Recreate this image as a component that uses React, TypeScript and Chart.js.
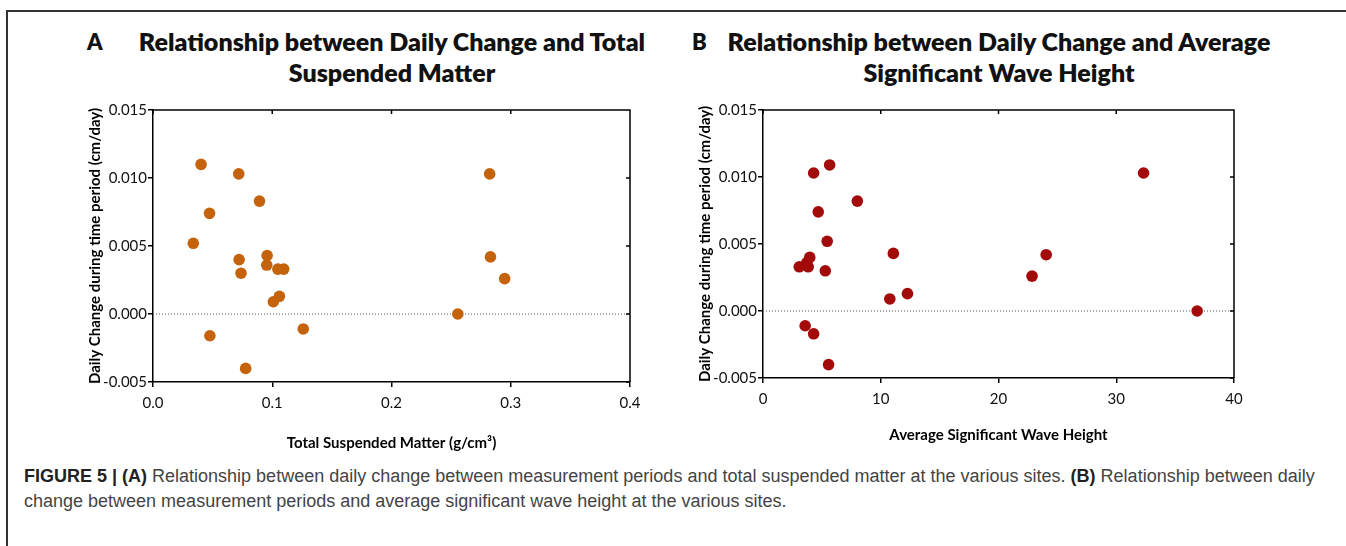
import React, { useEffect, useRef } from "react";
import { Chart, registerables } from "chart.js";

Chart.register(...registerables);

// ---------- data ----------
const yTickValues = [-0.005, 0, 0.005, 0.01, 0.015];
const tsmTickValues = [0, 0.1, 0.2, 0.3, 0.4];
const waveTickValues = [0, 10, 20, 30, 40];

// Panel A: Total Suspended Matter (g/cm3) vs daily change (cm/day)
const tsmX = [0.0403, 0.0719, 0.2823, 0.0893, 0.0474, 0.0338, 0.0722, 0.0738, 0.0957, 0.0954, 0.1047, 0.1096, 0.283, 0.2949, 0.106, 0.1009, 0.2556, 0.126, 0.0477, 0.0777];
const tsmY = [0.011, 0.0103, 0.0103, 0.0083, 0.0074, 0.0052, 0.004, 0.003, 0.0043, 0.0036, 0.0033, 0.0033, 0.0042, 0.0026, 0.0013, 0.0009, 0.0, -0.0011, -0.0016, -0.004];

// Panel B: Average significant wave height vs daily change (cm/day)
const waveX = [5.66, 4.3, 32.32, 8.01, 4.69, 5.45, 3.97, 3.71, 3.08, 3.84, 5.29, 11.07, 24.05, 22.85, 12.27, 10.77, 36.87, 3.58, 4.3, 5.57];
const waveY = [0.0109, 0.0103, 0.0103, 0.0082, 0.0074, 0.0052, 0.004, 0.0036, 0.0033, 0.0033, 0.003, 0.0043, 0.0042, 0.0026, 0.0013, 0.0009, 0.0, -0.0011, -0.0017, -0.004];

const yAxisTitle = "Daily Change during time period (cm/day)";
const tsmAxisTitle = "Total Suspended Matter (g/cm\u00B3)";
const waveAxisTitle = "Average Significant Wave Height";

// ---------- styling ----------
const TICK_FONT = { family: "Lato, 'DejaVu Sans', sans-serif", size: 15 };
const AXIS_TITLE_FONT = { family: "Lato, 'DejaVu Sans', sans-serif", size: 15, weight: "bold" as const, lineHeight: 1.2 };

const frameTicks = {
  id: "frameTicks",
  afterDatasetsDraw(chart: any) {
    const { ctx, chartArea: a, scales } = chart;
    const x = scales.x;
    const y = scales.y;
    ctx.save();
    ctx.strokeStyle = "#000";
    ctx.lineWidth = 1.5;
    ctx.beginPath();
    ctx.moveTo(a.left, a.top);
    ctx.lineTo(a.right, a.top);
    ctx.lineTo(a.right, a.bottom);
    x.ticks.forEach((t: any) => {
      const px = x.getPixelForValue(t.value);
      ctx.moveTo(px, a.top);
      ctx.lineTo(px, a.top + 4);
    });
    y.ticks.forEach((t: any) => {
      const py = y.getPixelForValue(t.value);
      ctx.moveTo(a.right, py);
      ctx.lineTo(a.right - 4, py);
    });
    ctx.stroke();
    ctx.restore();
  },
};

type PanelSpec = {
  xs: number[];
  ys: number[];
  xTicks: number[];
  xDecimals: number;
  color: string;
  xTitle: string;
  padTop: number;
  padRight: number;
  yAxisWidth: number;
  xAxisHeight: number;
  yTitlePad: number;
  xTitlePad: number;
};

function buildConfig(p: PanelSpec): any {
  const points = p.xs.map((x, i) => ({ x, y: p.ys[i] }));
  const xMin = p.xTicks[0];
  const xMax = p.xTicks[p.xTicks.length - 1];
  const yMin = yTickValues[0];
  const yMax = yTickValues[yTickValues.length - 1];
  return {
    type: "scatter",
    data: {
      datasets: [
        {
          data: points,
          backgroundColor: p.color,
          borderColor: p.color,
          borderWidth: 0,
          pointRadius: 5.8,
          pointHoverRadius: 5.8,
          order: 0,
        },
        {
          data: [
            { x: xMin, y: 0 },
            { x: xMax, y: 0 },
          ],
          showLine: true,
          borderColor: "#555",
          borderWidth: 1,
          borderDash: [1, 2],
          pointRadius: 0,
          order: 1,
        },
      ],
    },
    options: {
      responsive: false,
      animation: false,
      devicePixelRatio: 1,
      layout: { padding: { top: p.padTop, right: p.padRight, left: 0, bottom: 0 } },
      plugins: {
        legend: { display: false },
        tooltip: { enabled: false },
        title: { display: false },
      },
      scales: {
        x: {
          type: "linear",
          min: xMin,
          max: xMax,
          afterBuildTicks: (s: any) => {
            s.ticks = p.xTicks.map((v) => ({ value: v }));
          },
          afterFit: (s: any) => {
            s.height = p.xAxisHeight;
          },
          grid: { drawOnChartArea: false, drawTicks: true, tickLength: 5, color: "#000", lineWidth: 1.5 },
          border: { display: true, color: "#000", width: 1.5 },
          ticks: {
            font: TICK_FONT,
            color: "#111",
            padding: 7,
            maxRotation: 0,
            autoSkip: false,
            callback: (v: any) => Number(v).toFixed(p.xDecimals),
          },
          title: {
            display: true,
            text: p.xTitle,
            font: AXIS_TITLE_FONT,
            color: "#000",
            padding: { top: 0, bottom: p.xTitlePad },
          },
        },
        y: {
          type: "linear",
          min: yMin,
          max: yMax,
          afterBuildTicks: (s: any) => {
            s.ticks = yTickValues.map((v) => ({ value: v }));
          },
          afterFit: (s: any) => {
            s.width = p.yAxisWidth;
          },
          grid: { drawOnChartArea: false, drawTicks: true, tickLength: 5, color: "#000", lineWidth: 1.5 },
          border: { display: true, color: "#000", width: 1.5 },
          ticks: {
            font: TICK_FONT,
            color: "#111",
            padding: 1,
            autoSkip: false,
            callback: (v: any) => Number(v).toFixed(3),
          },
          title: {
            display: true,
            text: yAxisTitle,
            font: AXIS_TITLE_FONT,
            color: "#000",
            padding: { top: p.yTitlePad, bottom: 0 },
          },
        },
      },
    },
    plugins: [frameTicks],
  };
}

function ScatterPanel(props: { left: number; top: number; width: number; height: number; spec: PanelSpec }) {
  const ref = useRef<HTMLCanvasElement | null>(null);
  useEffect(() => {
    if (!ref.current) return;
    const chart = new Chart(ref.current, buildConfig(props.spec));
    return () => chart.destroy();
  }, []);
  return (
    <canvas
      ref={ref}
      width={props.width}
      height={props.height}
      style={{ position: "absolute", left: props.left, top: props.top, width: props.width, height: props.height }}
    />
  );
}

const titleStyle: React.CSSProperties = {
  position: "absolute",
  fontFamily: "Lato, 'DejaVu Sans', sans-serif",
  fontWeight: 800,
  fontSize: 25,
  lineHeight: "31px",
  color: "#111",
  textAlign: "center",
  whiteSpace: "nowrap",
};

export default function App() {
  return (
    <div style={{ position: "absolute", left: 0, top: 0, width: 1346, height: 546, background: "#fff", overflow: "hidden" }}>
      {/* frame */}
      <div style={{ position: "absolute", left: 6, top: 10, right: 0, height: 1.5, background: "#333" }} />
      <div style={{ position: "absolute", left: 6, top: 10, width: 1.5, bottom: 0, background: "#333" }} />

      {/* panel labels & titles */}
      <div style={{ ...titleStyle, left: 87, top: 26, textAlign: "left", fontSize: 22 }}>A</div>
      <div style={{ ...titleStyle, left: 392 - 300, top: 26, width: 600 }}>
        Relationship between Daily Change and Total
        <br />
        Suspended Matter
      </div>
      <div style={{ ...titleStyle, left: 692, top: 26, textAlign: "left", fontSize: 22 }}>B</div>
      <div style={{ ...titleStyle, left: 999 - 300, top: 26, width: 600 }}>
        Relationship between Daily Change and Average
        <br />
        Significant Wave Height
      </div>

      <ScatterPanel
        left={60}
        top={100}
        width={590}
        height={360}
        spec={{
          xs: tsmX,
          ys: tsmY,
          xTicks: tsmTickValues,
          xDecimals: 1,
          color: "#C5630C",
          xTitle: tsmAxisTitle,
          padTop: 9.5,
          padRight: 20,
          yAxisWidth: 93,
          xAxisHeight: 78,
          yTitlePad: 26,
          xTitlePad: 8,
        }}
      />
      <ScatterPanel
        left={670}
        top={100}
        width={590}
        height={360}
        spec={{
          xs: waveX,
          ys: waveY,
          xTicks: waveTickValues,
          xDecimals: 0,
          color: "#A30A0A",
          xTitle: waveAxisTitle,
          padTop: 8.5,
          padRight: 26,
          yAxisWidth: 93,
          xAxisHeight: 82,
          yTitlePad: 26.5,
          xTitlePad: 16,
        }}
      />

      {/* caption */}
      <div
        style={{
          position: "absolute",
          left: 24,
          top: 464,
          fontFamily: "'Liberation Sans', Arial, sans-serif",
          fontSize: 18,
          lineHeight: "25px",
          color: "#444",
          whiteSpace: "nowrap",
        }}
      >
        <b style={{ color: "#222" }}>FIGURE 5 | (A)</b> Relationship between daily change between measurement periods and total
        suspended matter at the various sites. <b style={{ color: "#222" }}>(B)</b> Relationship between daily
        <br />
        change between measurement periods and average significant wave height at the various sites.
      </div>
    </div>
  );
}
